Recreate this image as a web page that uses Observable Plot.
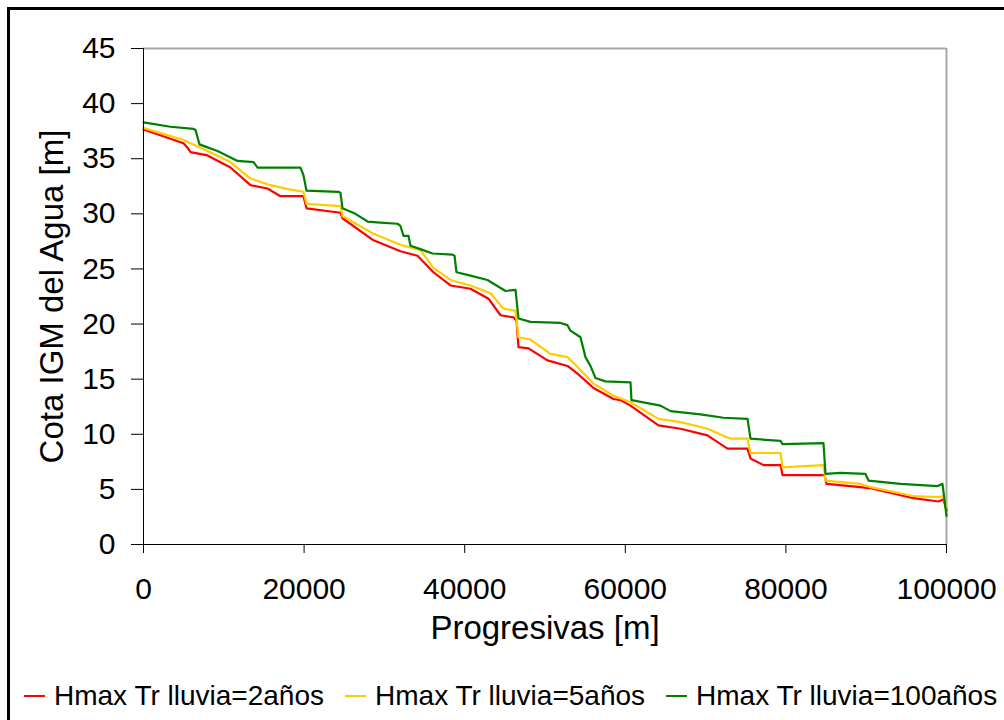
<!DOCTYPE html>
<html>
<head>
<meta charset="utf-8">
<script src="https://cdn.jsdelivr.net/npm/d3@7"></script>
<script src="https://cdn.jsdelivr.net/npm/@observablehq/plot@0.6"></script>
<style>
  html, body { margin: 0; padding: 0; background: #fff; overflow: hidden; width: 1004px; height: 720px; }
  body { font-family: "Liberation Sans", Arial, sans-serif; position: relative; }
  #frame { position: absolute; left: 7px; top: 7px; width: 1100px; height: 800px; border: 3px solid #000; box-sizing: border-box; }
  #chart { position: absolute; left: 0; top: 0; }
  #legend { position: absolute; left: 24px; top: 680px; display: flex; align-items: center; font-size: 28px; color: #000; white-space: nowrap; }
  .item { display: flex; align-items: center; margin-right: 21px; }
  .sw { width: 21px; height: 2px; margin-right: 9px; }
</style>
</head>
<body>
<div id="frame"></div>
<div id="chart"></div>
<div id="legend"></div>
<script>
// Series names and colours
const seriesNames = ["Hmax Tr lluvia=2años", "Hmax Tr lluvia=5años", "Hmax Tr lluvia=100años"];
const seriesColors = ["#ff0000", "#ffcc00", "#008000"];

// Axis ticks
const xTicks = [0, 20000, 40000, 60000, 80000, 100000];
const yTicks = [0, 5, 10, 15, 20, 25, 30, 35, 40, 45];

// [Progresiva (m), Cota (m)]
const tr2 = [[0,37.65],[4980,36.4],[5480,36.0],[5850,35.6],[7970,35.3],[10830,34.2],[13320,32.6],[15440,32.3],[17060,31.6],[19920,31.6],[20300,30.5],[24530,30.1],[24780,29.6],[28640,27.6],[32000,26.6],[34120,26.2],[36110,24.7],[38230,23.5],[40720,23.2],[42960,22.3],[44460,20.8],[46080,20.6],[46450,20.3],[46700,17.9],[47940,17.8],[50310,16.7],[52800,16.2],[54050,15.5],[56040,14.2],[58530,13.2],[59400,13.1],[60650,12.6],[64130,10.8],[66870,10.5],[70230,9.9],[72720,8.7],[75220,8.7],[75590,7.8],[77210,7.2],[79330,7.2],[79580,6.3],[84810,6.3],[85050,5.5],[89290,5.2],[90530,5.1],[95890,4.2],[99000,3.9],[99620,4.1],[100000,3.1]];

const tr5 = [[0,37.8],[4980,36.7],[7970,35.7],[10830,34.7],[13320,33.2],[15810,32.6],[18310,32.2],[19920,32.0],[20300,30.9],[24530,30.7],[24780,29.8],[28640,28.2],[32000,27.2],[34490,26.7],[36110,25.1],[38230,24.0],[40720,23.5],[43210,22.8],[44830,21.4],[46330,21.2],[46700,18.8],[48190,18.6],[50680,17.3],[52800,17.0],[54050,16.1],[56040,14.6],[58530,13.5],[60650,12.9],[64130,11.4],[66870,11.1],[70230,10.5],[73100,9.6],[75220,9.6],[75590,8.3],[79330,8.3],[79580,7.0],[84680,7.2],[84930,5.8],[89290,5.5],[90530,5.2],[95890,4.4],[99000,4.3],[99620,4.4],[100000,3.3]];

const tr100 = [[0,38.3],[3360,37.9],[6230,37.7],[6480,37.6],[6970,36.3],[7720,36.1],[9220,35.7],[11710,34.8],[13700,34.7],[14200,34.2],[19550,34.2],[19920,33.5],[20300,32.1],[24280,32.0],[24530,31.9],[24780,30.5],[26400,30.0],[27900,29.3],[29500,29.2],[31630,29.1],[32000,28.9],[32380,28.0],[33000,28.0],[33250,27.1],[34490,26.8],[35990,26.4],[38480,26.3],[38730,26.2],[38980,24.7],[40720,24.4],[42840,24.0],[45080,23.0],[46330,23.1],[46700,20.5],[48190,20.2],[51930,20.1],[52800,19.9],[53170,19.4],[54420,18.8],[55040,17.0],[55660,16.2],[56290,15.1],[57530,14.8],[60650,14.7],[60770,13.1],[64380,12.6],[65630,12.1],[69360,11.8],[72230,11.5],[75220,11.4],[75590,9.6],[79330,9.4],[79580,9.1],[84680,9.2],[84930,6.4],[86800,6.5],[89910,6.4],[90290,5.8],[94270,5.5],[98880,5.3],[99500,5.5],[100000,2.6]];

const xTitle = "Progresivas [m]";
const yTitle = "Cota IGM del Agua [m]";

const seriesData = [tr2, tr5, tr100];
const rows = seriesData.flatMap((arr, i) => arr.map(([x, y]) => ({x, y, serie: seriesNames[i]})));

const chart = Plot.plot({
  width: 1004,
  height: 670,
  marginLeft: 143,
  marginRight: 58,
  marginTop: 48,
  marginBottom: 126,
  style: {fontFamily: "'Liberation Sans', Arial, sans-serif", fontSize: "30px", color: "#000", background: "transparent"},
  x: {domain: [0, 100000]},
  y: {domain: [0, 45]},
  color: {domain: seriesNames, range: seriesColors},
  marks: [
    Plot.ruleY([45], {stroke: "#a8a8a8", strokeWidth: 2}),
    Plot.ruleX([100000], {stroke: "#a8a8a8", strokeWidth: 2}),
    Plot.line(rows, {x: "x", y: "y", z: "serie", stroke: "serie", strokeWidth: 2.2, curve: "linear"}),
    Plot.ruleX([0], {stroke: "#000", strokeWidth: 1}),
    Plot.ruleY([0], {stroke: "#000", strokeWidth: 1}),
    Plot.axisY({ticks: yTicks, tickSize: 12, tickPadding: 16, fontSize: 30, label: null, stroke: "#000"}),
    Plot.axisX({ticks: xTicks, tickSize: 9, tickPadding: 24, fontSize: 30, tickFormat: d => String(d), label: null, stroke: "#000"}),
    Plot.text([xTitle], {frameAnchor: "bottom", dy: 94, textAnchor: "middle", fontSize: 33, text: d => d, fill: "#000"}),
    Plot.text([yTitle], {frameAnchor: "left", dx: -91, textAnchor: "middle", rotate: -90, fontSize: 33, text: d => d, fill: "#000"})
  ]
});
document.getElementById("chart").appendChild(chart);

const legend = document.getElementById("legend");
seriesNames.forEach((name, i) => {
  const item = document.createElement("div");
  item.className = "item";
  const sw = document.createElement("span");
  sw.className = "sw";
  sw.style.background = seriesColors[i];
  const label = document.createElement("span");
  label.textContent = name;
  item.appendChild(sw);
  item.appendChild(label);
  legend.appendChild(item);
});
</script>
</body>
</html>
